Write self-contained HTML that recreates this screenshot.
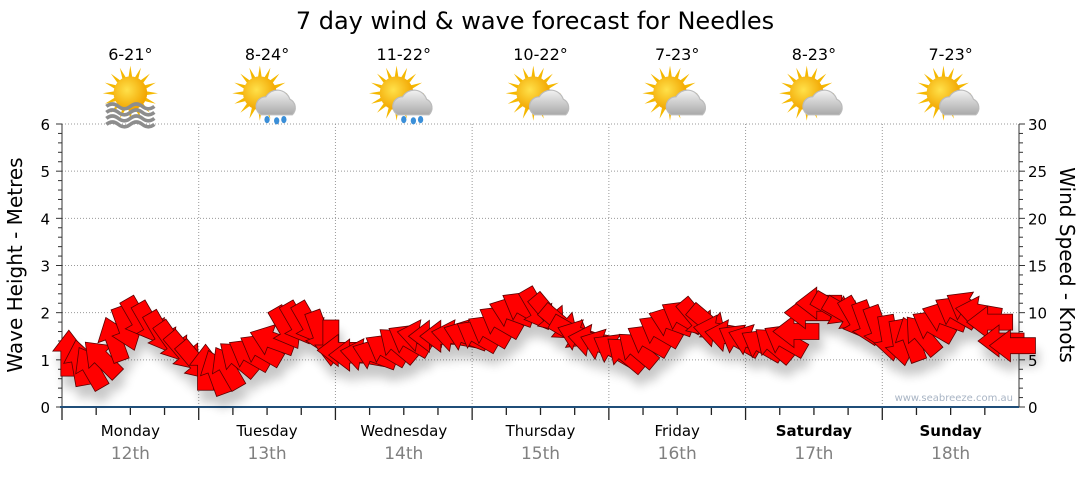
<!DOCTYPE html>
<html><head><meta charset="utf-8"><style>
body{margin:0;background:#fff;width:1080px;height:475px;overflow:hidden;font-family:"DejaVu Sans","Liberation Sans",sans-serif}
</style></head><body>
<svg id="c" width="1080" height="475" xmlns="http://www.w3.org/2000/svg">
<defs>
<filter id="sh" x="-50%" y="-50%" width="200%" height="250%"><feGaussianBlur in="SourceAlpha" stdDeviation="5"/><feOffset dx="3" dy="12"/><feComponentTransfer><feFuncA type="linear" slope="0.22"/></feComponentTransfer><feMerge><feMergeNode/><feMergeNode in="SourceGraphic"/></feMerge></filter>
<radialGradient id="sun" cx="0.4" cy="0.4" r="0.6"><stop offset="0" stop-color="#ffe14a"/><stop offset="1" stop-color="#f2a500"/></radialGradient>
<linearGradient id="cl" x1="0" y1="0" x2="0" y2="1"><stop offset="0" stop-color="#f2f2f2"/><stop offset="1" stop-color="#a9a9a9"/></linearGradient>
</defs>
<text x="535" y="29" text-anchor="middle" font-size="24" fill="#000">7 day wind &amp; wave forecast for Needles</text>
<g id="grid"></g>
<g id="axes"></g>
<g id="icons"></g>
<g id="arrows" filter="url(#sh)"></g>
<text x="1013" y="401" text-anchor="end" font-size="10" fill="#a8b4c4">www.seabreeze.com.au</text>
<text transform="translate(22,265) rotate(-90)" text-anchor="middle" font-size="20" fill="#000">Wave Height - Metres</text>
<text transform="translate(1060,265) rotate(90)" text-anchor="middle" font-size="20" fill="#000">Wind Speed - Knots</text>
</svg>
<script>
const days=["Monday","Tuesday","Wednesday","Thursday","Friday","Saturday","Sunday"];
const dates=["12th","13th","14th","15th","16th","17th","18th"];
const temps=["6-21°","8-24°","11-22°","10-22°","7-23°","8-23°","7-23°"];
const iconTypes=["fog","rain","rain","cloud","cloud","cloud","cloud"];
const waveTicks=[0,1,2,3,4,5,6];
const windTicks=[0,5,10,15,20,25,30];
const windSpeed=[5.5,4.5,4,5,7,8.5,9.5,9,8,7,6,5,
4,3.5,4,5,5.5,6,7,8.5,9,9,8,7,
6,5.5,5.5,5.5,6,6.5,7,7.5,7.5,7.5,7.5,7.5,
7.5,8,9,10,10.5,10.5,10,9,8,7.5,7,6.5,
6,5.5,6,7,8,9,9.5,9.5,9,8,7.5,7,
7,6.5,6.5,7,8,10,11,10.5,10,9.5,9,8.5,
7.5,7,7,7.5,8.5,9.5,10,10.5,10,9,7,6.5];
const windDir=[0,-10,-30,-45,-20,160,150,150,150,145,140,140,
0,-20,-30,-50,-60,-60,-70,150,150,150,160,180,
-90,-90,-80,-70,-60,-50,-60,-80,-90,-90,-80,-70,
-60,-60,-60,-70,-60,150,140,130,120,-70,-80,-70,
-60,-50,-50,-60,-60,-70,-60,140,130,-80,-80,-60,
-70,-60,-50,-60,-90,-90,-90,120,120,150,160,160,
170,170,-20,-40,-60,-70,-60,-60,-80,-90,-90,-90];
const NS="http://www.w3.org/2000/svg";
const X0=62,X1=1019,Y0=407,Y1=124;
const dayW=(X1-X0)/7;
const xs=h=>X0+h/24*dayW;
const yw=m=>Y0-(Y0-Y1)*m/6;
const yk=k=>Y0-(Y0-Y1)*k/30;
function mk(t,a,p){const e=document.createElementNS(NS,t);for(const k in a)e.setAttribute(k,a[k]);(p||document.getElementById("axes")).appendChild(e);return e;}
const grid=document.getElementById("grid"),axes=document.getElementById("axes"),icons=document.getElementById("icons"),arr=document.getElementById("arrows");
waveTicks.forEach(v=>{if(v>0){const l=mk("line",{x1:X0,x2:X1,y1:yw(v),y2:yw(v),stroke:"#999","stroke-dasharray":"1,2"},grid);

}
const t=mk("text",{x:50,y:yw(v)+6,"text-anchor":"end","font-size":15,fill:"#000"});t.textContent=v;

});
windTicks.forEach(v=>{const t=mk("text",{x:1028,y:yk(v)+6,"font-size":15,fill:"#000"});t.textContent=v;

});
for(let k=0;k<=30;k++){const len=k%5==0?6:4;
mk("line",{x1:X0,x2:X0-len,y1:yk(k),y2:yk(k),stroke:"#333"});
mk("line",{x1:X1,x2:X1+len,y1:yk(k),y2:yk(k),stroke:"#333"});}
mk("line",{x1:X0,x2:X0,y1:Y1,y2:Y0,stroke:"#333"});
mk("line",{x1:X1,x2:X1,y1:Y1,y2:Y0,stroke:"#333"});
days.forEach((d,i)=>{
const xa=X0+i*dayW,xc=xa+dayW/2;
if(i>0){const l=mk("line",{x1:xa,x2:xa,y1:Y1,y2:Y0,stroke:"#999","stroke-dasharray":"1,2"},grid);

}
for(let q=0;q<4;q++){mk("line",{x1:xa+q*dayW/4,x2:xa+q*dayW/4,y1:Y0,y2:Y0+(q==0?13:8),stroke:"#222","stroke-width":1.3});}
const t=mk("text",{x:xc,y:436,"text-anchor":"middle","font-size":15,fill:"#000","font-weight":i>=5?"bold":"normal"});t.textContent=d;


const t2=mk("text",{x:xc,y:459,"text-anchor":"middle","font-size":17,fill:"#808080"});t2.textContent=dates[i];


const t3=mk("text",{x:xc,y:60,"text-anchor":"middle","font-size":16,fill:"#000"});t3.textContent=temps[i];


const g=mk("g",{transform:`translate(${xc},98) scale(1.2)`},icons);


const sx=iconTypes[i]=="fog"?0:-6;
for(let r=0;r<16;r++){const a=r*Math.PI/8;mk("polygon",{points:`${sx+Math.cos(a-0.15)*12},${-4+Math.sin(a-0.15)*12} ${sx+Math.cos(a)*23},${-4+Math.sin(a)*23} ${sx+Math.cos(a+0.15)*12},${-4+Math.sin(a+0.15)*12}`,fill:"#f5b800"},g);}
mk("circle",{cx:sx,cy:-4,r:14,fill:"url(#sun)"},g);
if(iconTypes[i]=="fog"){for(let w=0;w<4;w++)mk("path",{d:`M-20,${7+w*5} q5,-4 10,0 t10,0 t10,0 t10,0`,stroke:"#8d8d8d","stroke-width":3,fill:"none"},g);}
else{mk("path",{d:"M-5,14 a8,8 0 0 1 4,-15 a11,11 0 0 1 20,2 a8,8 0 0 1 2,13 z",fill:"url(#cl)",stroke:"#bbb"},g);
if(iconTypes[i]=="rain"){[[0,18],[8,19],[14,18]].forEach(p=>mk("ellipse",{cx:p[0],cy:p[1],rx:2.2,ry:3,fill:"#3b8fd8"},g));}}
});
mk("line",{x1:X0-2,x2:X1,y1:Y0,y2:Y0,stroke:"#1f4e79","stroke-width":2});
const step=24/12;
windSpeed.forEach((s,i)=>{
const x=xs(i*step+1.2),y=yk(s);
const p=mk("polygon",{points:"-8,21 -8,-4 -16,-4 0,-25 16,-4 8,-4 8,21",fill:"#ff0000",stroke:"#5a0000","stroke-width":0.8,transform:`translate(${x},${y}) rotate(${windDir[i]})`},arr);


});
</script>
</body></html>
